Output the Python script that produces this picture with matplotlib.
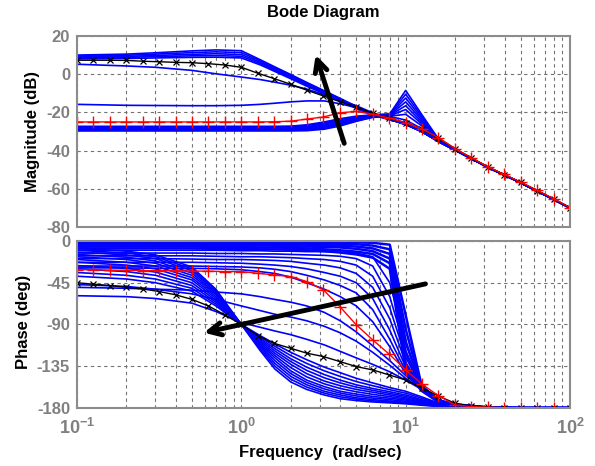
import matplotlib
matplotlib.use('Agg')
import matplotlib.pyplot as plt

plt.rcParams['font.family'] = ['Liberation Sans', 'DejaVu Sans']
plt.rcParams['font.weight'] = 'bold'
plt.rcParams['axes.unicode_minus'] = False
plt.rcParams['mathtext.fontset'] = 'custom'
plt.rcParams['mathtext.rm'] = 'Liberation Sans:bold'
plt.rcParams['mathtext.bf'] = 'Liberation Sans:bold'

# frequency grid of the blue family (rad/sec)
w = [0.1, 0.2, 0.3, 0.5, 0.7, 1, 1.3, 1.6, 2, 2.5, 3.2, 4, 5, 6.3, 8, 10, 12.5, 16, 20, 32, 50, 100]
# frequency grid of the marked curves
w_mark = [0.1, 0.126, 0.158, 0.2, 0.251, 0.316, 0.398, 0.501, 0.631, 0.794,
          1, 1.26, 1.58, 2, 2.51, 3.16, 3.98, 5.01, 6.31, 7.94,
          10, 12.6, 15.8, 20, 25.1, 31.6, 39.8, 50.1, 63.1, 79.4, 100]

# ---- magnitude (dB), blue family ----
mag_a1 = [10, 10.5, 11.2, 12.2, 12.7, 12.3, 7.6, 3.8, -0.2, -4.3, -8.7, -12.7, -16.8, -21, -23.6, -26.3, -30, -35.5, -39.8, -49, -56.8, -70]
mag_a2 = [9.5, 9.9, 10.5, 11.3, 11.7, 11.3, 7, 3.2, -0.7, -4.8, -9.1, -13, -17, -21.1, -23.6, -26.3, -30, -35.5, -39.8, -49, -56.8, -70]
mag_a3 = [9, 9.3, 9.8, 10.4, 10.7, 10.3, 6.3, 2.6, -1.3, -5.3, -9.5, -13.4, -17.3, -21.2, -23.7, -26.3, -30, -35.5, -39.8, -49, -56.8, -70]
mag_a4 = [8.5, 8.8, 9.2, 9.6, 9.7, 9.4, 5.6, 2, -1.8, -5.8, -9.9, -13.8, -17.6, -21.3, -23.7, -26.3, -30, -35.5, -39.8, -49, -56.8, -70]
mag_a5 = [8, 8.2, 8.5, 8.8, 8.9, 8.5, 4.9, 1.4, -2.4, -6.3, -10.3, -14.1, -17.9, -21.4, -23.8, -26.3, -30, -35.5, -39.8, -49, -56.8, -70]
mag_c1 = [5.2, 4.3, 3.6, 2, 0.2, -1.5, -2.8, -4.2, -5.8, -7.8, -10.8, -13.8, -16.5, -20.2, -23.5, -26.3, -30, -35.5, -39.8, -49, -56.8, -70]
mag_m1 = [-15.8, -16.3, -16.4, -16.5, -16.5, -16.3, -15.8, -15.2, -14.5, -14, -14, -15.5, -17.5, -20.5, -23.6, -26.3, -30, -35.5, -39.8, -49, -56.8, -70]
mag_b1 = [-27.3, -27.3, -27.3, -27.3, -27.3, -27.3, -27.3, -27.3, -27.2, -26.5, -25, -23.3, -22, -21.3, -20.8, -8.5, -21, -34.5, -39.5, -49, -56.8, -70]
mag_b2 = [-27.6, -27.6, -27.6, -27.6, -27.6, -27.6, -27.6, -27.6, -27.5, -26.9, -25.5, -23.8, -22.4, -21.5, -21, -10.5, -22, -34.7, -39.5, -49, -56.8, -70]
mag_b3 = [-28, -28, -28, -28, -28, -28, -28, -28, -27.9, -27.5, -26, -24.4, -22.8, -21.7, -21.2, -12.5, -23, -34.9, -39.5, -49, -56.8, -70]
mag_b4 = [-28.3, -28.3, -28.3, -28.3, -28.3, -28.3, -28.3, -28.3, -28.2, -28, -26.6, -25, -23.2, -21.9, -21.4, -14.5, -24, -35, -39.5, -49, -56.8, -70]
mag_b5 = [-28.7, -28.7, -28.7, -28.7, -28.7, -28.7, -28.7, -28.7, -28.6, -28.4, -27.2, -25.6, -23.6, -22.1, -21.6, -16.5, -25, -35.1, -39.5, -49, -56.8, -70]
mag_b6 = [-29, -29, -29, -29, -29, -29, -29, -29, -29, -28.8, -27.7, -26.1, -24, -22.3, -21.8, -18.5, -26, -35.2, -39.5, -49, -56.8, -70]
mag_b7 = [-29.4, -29.4, -29.4, -29.4, -29.4, -29.4, -29.4, -29.4, -29.4, -29.2, -28.3, -26.6, -24.4, -22.5, -22, -21, -27, -35.3, -39.5, -49, -56.8, -70]
mag_b8 = [-29.7, -29.7, -29.7, -29.7, -29.7, -29.7, -29.7, -29.7, -29.7, -29.6, -28.8, -27.1, -24.7, -22.6, -22.2, -24, -28.5, -35.4, -39.5, -49, -56.8, -70]

# ---- phase (deg), blue family ----
# near-zero band, dropping at the resonance
ph_b1 = [0, 0, 0, 0, 0, 0, 0, 0, -0.5, -0.5, -1, -1, -1.5, -2, -4, -80, -156, -172, -176, -179.5, -180, -180]
ph_b2 = [-1, -1, -1, -1, -1, -1.5, -1.5, -1.5, -2, -2, -2.5, -3, -3.5, -5, -9, -95, -158, -172.5, -176.5, -179.5, -180, -180]
ph_b3 = [-2.5, -2.5, -2.5, -2.5, -3, -3, -3, -3.5, -3.5, -4, -4.5, -5, -6, -8, -14, -108, -159, -173, -177, -179.5, -180, -180]
ph_b4 = [-4, -4, -4, -4, -4.5, -4.5, -5, -5, -5.5, -6, -6.5, -7, -8.5, -11, -19, -120, -160, -173.5, -177, -179.5, -180, -180]
ph_b5 = [-6, -6, -6, -6, -6.5, -6.5, -7, -7, -7.5, -8, -9, -10, -11.5, -14, -24, -132, -161, -174, -177.5, -179.5, -180, -180]
ph_b6 = [-8, -8, -8, -8, -8.5, -8.5, -9, -9, -9.5, -10, -11, -12.5, -14.5, -18, -30, -140, -161.5, -174, -177.5, -179.5, -180, -180]
# fan bending down between 3 and 12 rad/sec
ph_f1 = [-10, -10, -10, -10, -10, -10.5, -10.5, -11, -11, -11.5, -11.5, -12, -13, -17, -45, -110, -158, -172, -176.5, -179.5, -180, -180]
ph_f2 = [-13, -13, -13, -13, -13.5, -13.5, -14, -14, -14.5, -15, -15.5, -16.5, -19, -27, -60, -118, -158.5, -172, -176.5, -179.5, -180, -180]
ph_f3 = [-16, -16, -16, -16, -16.5, -17, -17, -17.5, -18, -19, -20, -22, -26, -38, -72, -125, -159, -172, -176.5, -179.5, -180, -180]
ph_f4 = [-19, -19, -19, -19.5, -20, -20, -20.5, -21, -22, -24, -26, -29, -35, -50, -84, -131, -159, -172, -176.5, -179.5, -180, -180]
ph_f5 = [-23, -23, -23, -23, -23.5, -24, -25, -26, -27.5, -30, -34, -38, -45, -62, -96, -136, -159, -172, -176.5, -179.5, -180, -180]
ph_f6 = [-27, -27, -27, -27, -27.5, -28, -29, -30.5, -33, -37, -42, -48, -56, -74, -106, -140, -159, -172, -176.5, -179.5, -180, -180]
ph_f7 = [-29, -29, -29.5, -29.5, -30, -31, -33, -35, -39, -45, -52, -60, -70, -87, -114, -143, -159, -172, -176.5, -179.5, -180, -180]
ph_g1 = [-50, -51, -52, -53, -55, -57, -60, -63, -66, -70, -77, -86, -98, -113, -129, -145, -159, -172, -176.5, -179.5, -180, -180]
ph_g2 = [-47, -49, -52, -57, -63, -70, -75, -79, -82, -86, -92, -99, -108, -120, -134, -148, -159.5, -172, -176.5, -179.5, -180, -180]
# curves crossing -90 deg at 1 rad/sec
ph_a1 = [-8, -11, -15, -28, -52, -90, -118, -138, -152, -160, -166, -170, -172, -173.5, -174.5, -175.5, -177, -178.5, -179, -180, -180, -180]
ph_a1b = [-10, -13, -17, -30, -53.5, -90, -116, -135, -149, -157.5, -164, -168, -170.5, -172.3, -173.5, -174.8, -176.5, -178.3, -179, -180, -180, -180]
ph_a2 = [-12, -15, -19, -32, -55, -90, -114, -132, -146, -155, -162, -166, -169, -171, -172.5, -174, -176, -178, -179, -180, -180, -180]
ph_a2b = [-14.5, -17.5, -21.5, -34.5, -56.5, -90, -112.5, -129, -143, -152.5, -159.5, -164, -167, -169.3, -171, -172.8, -175.3, -177.8, -179, -180, -180, -180]
ph_a3 = [-17, -20, -24, -37, -58, -90, -111, -126, -140, -150, -157, -162, -165, -167.5, -169.5, -171.5, -174.5, -177.5, -179, -180, -180, -180]
ph_a3b = [-20, -23, -27, -39.5, -60, -90, -109.5, -123.5, -136.5, -146.5, -154, -159, -162.5, -165.3, -167.8, -170.3, -173.8, -177.3, -179, -180, -180, -180]
ph_a4 = [-23, -26, -30, -42, -62, -90, -108, -121, -133, -143, -151, -156, -160, -163, -166, -169, -173, -177, -179, -180, -180, -180]
ph_a4b = [-26.5, -29.5, -33.5, -45, -64, -90, -106.5, -118.5, -130, -139.5, -147.5, -153, -157.5, -161, -164.3, -167.5, -172, -176.5, -178.8, -180, -180, -180]
ph_a5 = [-30, -33, -37, -48, -66, -90, -105, -116, -127, -136, -144, -150, -155, -159, -162.5, -166, -171, -176, -178.5, -180, -180, -180]
ph_a5b = [-34, -37, -41, -51, -68, -90, -103.5, -113.5, -123.5, -132, -140, -146, -151.5, -156, -160.3, -164, -169.5, -175.5, -178.3, -180, -180, -180]
ph_a6 = [-38, -41, -45, -54, -70, -90, -102, -111, -120, -128, -136, -142, -148, -153, -158, -162, -168, -175, -178, -180, -180, -180]
ph_a7 = [-59, -60, -62, -67, -76, -88, -93, -97, -101, -106, -112, -119, -126, -133, -141, -150, -160, -171, -177, -180, -180, -180]

# ---- highlighted curves (on w_mark) ----
mag_red = [-25, -25, -25, -25, -25, -25, -25, -25, -25, -25, -25, -25, -24.9, -24.6, -23.5, -22.4,
           -20.2, -19.5, -21, -23, -25.4, -28.7, -33.2, -39, -43.7, -48.5, -52.5, -56.5, -60.8, -65.2, -69.8]
mag_black = [7.3, 7.3, 7.3, 7.2, 6.8, 6.5, 6.2, 6.0, 5.5, 4.8, 3.6, 0.5, -2.3, -5.3, -8.4, -11.4,
             -14.4, -17.2, -20.5, -23, -25.4, -28.9, -33.4, -39, -43.8, -48.6, -52.6, -56.6, -60.9, -65.3, -69.9]
ph_red = [-31, -31, -31.5, -31.5, -32, -32, -32, -32.5, -32.5, -33, -33, -34.8, -36.6, -38.4, -43.8, -52.8,
          -70.8, -90.5, -106.7, -122, -139, -154.5, -166.7, -176.8, -178.5, -179.3, -179.7, -180, -180, -180, -180]
ph_black = [-45, -46.6, -48, -50, -51.7, -54.5, -58, -63, -70, -79.7, -90, -102, -110.3, -115.7, -121, -124.6,
            -130, -135.4, -139, -144.4, -149.8, -158.7, -167, -175, -178, -179.2, -179.7, -180, -180, -180, -180]

mag_blue = [mag_a1, mag_a2, mag_a3, mag_a4, mag_a5, mag_c1, mag_m1,
            mag_b1, mag_b2, mag_b3, mag_b4, mag_b5, mag_b6, mag_b7, mag_b8]
ph_band = [ph_b1, ph_b2, ph_b3, ph_b4, ph_b5, ph_b6]
ph_blue = [ph_f1, ph_f2, ph_f3, ph_f4, ph_f5, ph_f6, ph_f7, ph_g1, ph_g2,
           ph_a1, ph_a1b, ph_a2, ph_a2b, ph_a3, ph_a3b, ph_a4, ph_a4b, ph_a5, ph_a5b, ph_a6, ph_a7]

# arrows: (tail, head) in data coords
mag_arrow = ((4.28, -37.6), (2.8, 11.5))
ph_arrow = ((13.7, -45.6), (0.57, -99.5))

fig = plt.figure(figsize=(5.95, 4.66), dpi=100)
ax1 = fig.add_axes([0.1294, 0.5129, 0.8286, 0.4099])
ax2 = fig.add_axes([0.1294, 0.1245, 0.8286, 0.3584])

for m in mag_blue:
    ax1.plot(w, m, color='blue', lw=1.2)
ax1.plot(w_mark, mag_black, color='black', lw=1, marker='x', ms=4, mew=0.9)
ax1.plot(w_mark, mag_red, color='red', lw=1, marker='+', ms=8, mew=1)

for p in ph_band:
    ax2.plot(w, p, color='blue', lw=1.8)
for p in ph_blue:
    ax2.plot(w, p, color='blue', lw=1.2)
ax2.plot(w_mark, ph_black, color='black', lw=1, marker='x', ms=4, mew=0.9)
ax2.plot(w_mark, ph_red, color='red', lw=1, marker='+', ms=8, mew=1)

ax1.annotate('', xy=mag_arrow[1], xytext=mag_arrow[0],
             arrowprops=dict(arrowstyle='->', lw=3.5, color='black', mutation_scale=22))
ax2.annotate('', xy=ph_arrow[1], xytext=ph_arrow[0],
             arrowprops=dict(arrowstyle='->', lw=3.5, color='black', mutation_scale=22))


def style(ax, ylim, yticks):
    ax.set_xscale('log')
    ax.set_xlim(0.1, 100)
    ax.set_ylim(*ylim)
    ax.set_yticks(yticks)
    ax.set_yticklabels([str(t) for t in yticks])
    ax.grid(True, which='major', color='0.45', ls=(0, (3, 3)), lw=0.8)
    ax.grid(True, which='minor', axis='x', color='0.45', ls=(0, (3, 3)), lw=0.8)
    for s in ax.spines.values():
        s.set_color('0.55')
        s.set_linewidth(1.5)
    ax.tick_params(which='both', colors='0.5', labelsize=12, direction='in', length=0, pad=5)
    for lab in ax.get_yticklabels():
        lab.set_fontweight('bold')


style(ax1, (-80, 20), [-80, -60, -40, -20, 0, 20])
style(ax2, (-180, 0), [-180, -135, -90, -45, 0])
ax1.tick_params(labelbottom=False)
ax2.set_xticks([0.1, 1, 10, 100])
ax2.set_xticklabels([r'$\mathbf{10^{-1}}$', r'$\mathbf{10^{0}}$', r'$\mathbf{10^{1}}$', r'$\mathbf{10^{2}}$'],
                    fontsize=13)
ax2.tick_params(axis='x', pad=7)

fig.text(323 / 595, 1 - 13 / 466, 'Bode Diagram', ha='center', va='center', fontsize=12, fontweight='bold')
fig.text(33 / 595, 1 - 131 / 466, 'Magnitude (dB)', rotation=90, ha='center', va='center',
         fontsize=12, fontweight='bold')
fig.text(24 / 595, 1 - 322 / 466, 'Phase (deg)', rotation=90, ha='center', va='center',
         fontsize=12, fontweight='bold')
fig.text(320 / 595, 1 - 452 / 466, 'Frequency  (rad/sec)', ha='center', va='center',
         fontsize=12, fontweight='bold')

fig.savefig('out.png', dpi=100)
